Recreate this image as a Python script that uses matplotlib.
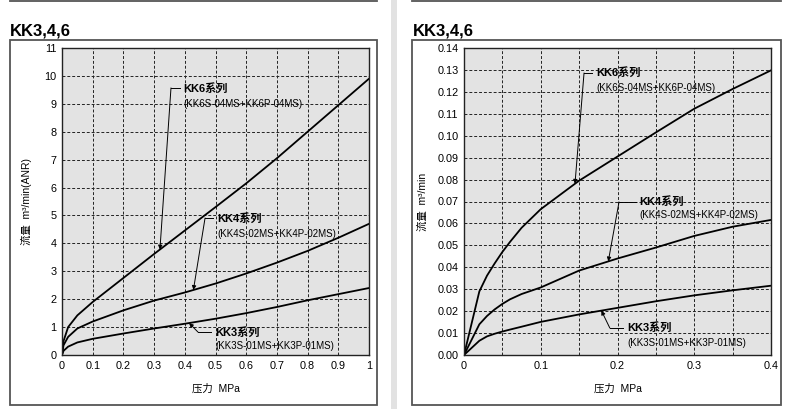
"""
KK3,4,6 flow characteristics - two panels (full range / low pressure)
"""

import numpy as np
import matplotlib
matplotlib.use('Agg')
import matplotlib.pyplot as plt
from matplotlib.patches import Rectangle
from matplotlib.lines import Line2D

plt.rcParams['font.family'] = ['Liberation Sans', 'Noto Sans CJK SC', 'DejaVu Sans']

# Left panel: 0 - 1 MPa, flow m3/min(ANR)
p_full = [0, 0.005, 0.02, 0.05, 0.1, 0.2, 0.3, 0.4, 0.5, 0.6, 0.7, 0.8, 0.9, 1.0]
kk6_full = [0, 0.5, 1.0, 1.42, 1.9, 2.76, 3.62, 4.46, 5.3, 6.15, 7.05, 8.0, 8.95, 9.9]
kk4_full = [0, 0.35, 0.65, 0.95, 1.2, 1.6, 1.95, 2.24, 2.56, 2.92, 3.31, 3.73, 4.2, 4.7]
kk3_full = [0, 0.15, 0.3, 0.45, 0.58, 0.77, 0.95, 1.12, 1.3, 1.5, 1.72, 1.96, 2.18, 2.4]

# Right panel: 0 - 0.4 MPa, flow m3/min
p_low = [0, 0.02, 0.03, 0.04, 0.05, 0.06, 0.075, 0.1, 0.15, 0.2, 0.25, 0.3, 0.35, 0.4]
kk6_low = [0, 0.029, 0.0362, 0.0418, 0.047, 0.0516, 0.058, 0.0665, 0.0795, 0.0905,
           0.1015, 0.1123, 0.1213, 0.1298]
kk4_low = [0, 0.014, 0.0178, 0.0208, 0.0233, 0.0254, 0.0278, 0.0308, 0.0385, 0.044,
           0.049, 0.0543, 0.0585, 0.0616]
kk3_low = [0, 0.0065, 0.0085, 0.0097, 0.0107, 0.0116, 0.0129, 0.0151, 0.0185, 0.0215,
           0.0245, 0.0272, 0.0295, 0.0316]

series_names = ['KK6系列', 'KK4系列', 'KK3系列']
series_models = ['(KK6S-04MS+KK6P-04MS)', '(KK4S-02MS+KK4P-02MS)', '(KK3S-01MS+KK3P-01MS)']

x_ticks_full = [0, 0.1, 0.2, 0.3, 0.4, 0.5, 0.6, 0.7, 0.8, 0.9, 1]
x_labels_full = ['0', '0.1', '0.2', '0.3', '0.4', '0.5', '0.6', '0.7', '0.8', '0.9', '1']
y_ticks_full = list(range(0, 12))
x_ticks_low = [0, 0.1, 0.2, 0.3, 0.4]
x_labels_low = ['0', '0.1', '0.2', '0.3', '0.4']
y_ticks_low = [i / 100 for i in range(0, 15)]

W, H = 790, 409
fig = plt.figure(figsize=(W / 100, H / 100), dpi=100)


def px_box(x0, y0, x1, y1):
    """figure-fraction rect from pixel corners (top-left origin)"""
    return [x0 / W, 1 - y1 / H, (x1 - x0) / W, (y1 - y0) / H]


# panel frames and divider
for bx0, bx1 in [(10, 377), (412, 781)]:
    fig.patches.append(Rectangle((bx0 / W, 1 - 405 / H), (bx1 - bx0) / W, 365 / H,
                                 transform=fig.transFigure, fill=False,
                                 edgecolor='#555555', linewidth=1.3))
    fig.lines.append(Line2D([bx0 / W, bx1 / W], [1 - 1 / H, 1 - 1 / H],
                            transform=fig.transFigure, color='#555555', linewidth=1.3))
fig.patches.append(Rectangle((391 / W, 0), 6 / W, 1, transform=fig.transFigure,
                             facecolor='#e2e2e2', edgecolor='none'))

fig.text(10 / W, 1 - 36 / H, 'KK3,4,6', fontsize=12, fontweight='bold', ha='left', va='baseline')
fig.text(413 / W, 1 - 36 / H, 'KK3,4,6', fontsize=12, fontweight='bold', ha='left', va='baseline')


def style_axes(ax):
    ax.set_facecolor('#e3e3e3')
    ax.grid(True, which='both', linestyle=(0, (3, 2)), color='#222222', linewidth=0.7)
    ax.set_axisbelow(True)
    ax.tick_params(which='both', length=0, labelsize=7.8, pad=4)
    for s in ax.spines.values():
        s.set_linewidth(1.0)
        s.set_color('#222222')


def callout(ax, xs, ys, x_tip, corner, line_end, text_x, y_title, y_sub, name, model):
    y_tip = np.interp(x_tip, xs, ys)
    ax.plot([corner[0], line_end], [corner[1], corner[1]], color='black', linewidth=0.7,
            clip_on=False)
    ax.annotate('', xy=(x_tip, y_tip), xytext=corner,
                arrowprops=dict(arrowstyle='-|>', color='black', linewidth=0.7,
                                mutation_scale=6, shrinkA=0, shrinkB=0))
    ax.text(text_x, y_title, name, fontsize=8, fontweight='bold', ha='left', va='center')
    ax.text(text_x, y_sub, model, fontsize=7, ha='left', va='center')


# ---- left panel
ax1 = fig.add_axes(px_box(62, 48, 369, 355))
style_axes(ax1)
for ys in (kk6_full, kk4_full, kk3_full):
    ax1.plot(p_full, ys, color='black', linewidth=1.3)
ax1.set_xlim(0, 1)
ax1.set_ylim(0, 11)
ax1.set_xticks(x_ticks_full)
ax1.set_xticklabels(x_labels_full)
ax1.set_yticks(y_ticks_full)
ax1.set_xlabel('压力  MPa', fontsize=7.5, labelpad=9)
ax1.set_ylabel('流量  m³/min(ANR)', fontsize=7.5, labelpad=9)

callout(ax1, p_full, kk6_full, 0.319, (0.355, 9.57), 0.384, 0.394, 9.57, 9.0,
        series_names[0], series_models[0])
callout(ax1, p_full, kk4_full, 0.428, (0.466, 4.91), 0.492, 0.505, 4.88, 4.35,
        series_names[1], series_models[1])
callout(ax1, p_full, kk3_full, 0.414, (0.443, 0.82), 0.485, 0.498, 0.82, 0.32,
        series_names[2], series_models[2])

# ---- right panel
ax2 = fig.add_axes(px_box(464, 48, 771, 355))
style_axes(ax2)
for ys in (kk6_low, kk4_low, kk3_low):
    ax2.plot(p_low, ys, color='black', linewidth=1.3)
ax2.set_xlim(0, 0.4)
ax2.set_ylim(0, 0.14)
ax2.set_xticks(x_ticks_low)
ax2.set_xticklabels(x_labels_low)
ax2.set_xticks(np.arange(0.05, 0.4, 0.1), minor=True)
ax2.set_yticks(y_ticks_low)
ax2.set_yticklabels([f'{v:.2f}' for v in y_ticks_low])
ax2.set_xlabel('压力  MPa', fontsize=7.5, labelpad=9)
ax2.set_ylabel('流量  m³/min', fontsize=7.5, labelpad=7)

callout(ax2, p_low, kk6_low, 0.1446, (0.1564, 0.1286), 0.1668, 0.172, 0.1288, 0.1218,
        series_names[0], series_models[0])
callout(ax2, p_low, kk4_low, 0.188, (0.202, 0.0698), 0.224, 0.228, 0.0702, 0.0638,
        series_names[1], series_models[1])
callout(ax2, p_low, kk3_low, 0.179, (0.190, 0.0123), 0.207, 0.2125, 0.0125, 0.0057,
        series_names[2], series_models[2])

plt.savefig('out.png', dpi=100)
